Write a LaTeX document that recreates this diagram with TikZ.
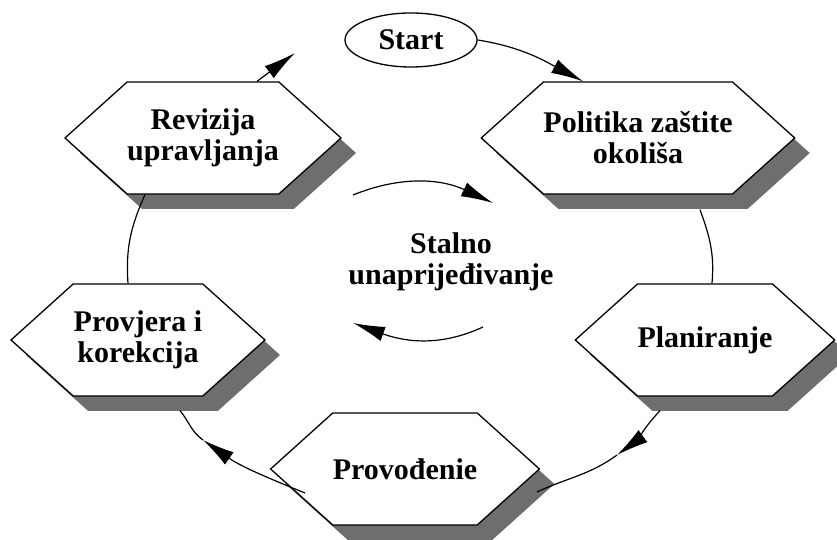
\documentclass[tikz,border=0pt]{standalone}
\usepackage{fontspec}
\setmainfont{Liberation Serif}
\usetikzlibrary{shapes.geometric, shapes.symbols, shadows, arrows.meta}
\definecolor{sjena}{RGB}{110,110,110}

\begin{document}
\begin{tikzpicture}[x=0.5pt, y=0.5pt,
  hexbox/.style={signal, signal to=east and west, signal pointer angle=84,
    draw, line width=0.65pt, fill=white, inner sep=0pt,
    minimum width=127pt, minimum height=56pt, align=center,
    font=\bfseries\fontsize{15}{15.5}\selectfont,
    drop shadow={shadow xshift=7.5pt, shadow yshift=-7.5pt, fill=sjena, opacity=1}},
  veza/.style={line width=0.6pt},
  strelica/.style={line width=0.6pt, -{Latex[length=16pt, width=7.5pt]}}]
  \useasboundingbox (0,0) rectangle (837,540);

  % start
  \node[ellipse, draw, line width=0.65pt, minimum width=66pt, minimum height=27pt,
    inner sep=0pt, font=\bfseries\fontsize{15}{15.5}\selectfont] (start) at (411,500) {Start};

  % faze ciklusa
  \node[hexbox] (politika) at (638,402) {Politika zaštite\\okoliša};
  \node[hexbox] (plan) at (705,200) {Planiranje};
  \node[hexbox] (provod) at (405,71) {Provođenie};
  \node[hexbox] (provjera) at (138,200) {Provjera i\\korekcija};
  \node[hexbox] (revizija) at (203,402) {Revizija\\upravljanja};

  % sredina
  \node[align=center, font=\bfseries\fontsize{15}{15.5}\selectfont] (stalno) at (451,278)
    {Stalno\\unaprijeđivanje};

  % krug
  \coordinate (m3) at (617,85);
  \coordinate (m4) at (203,100);
  \coordinate (kraj) at (295,487);
  \draw[strelica] (start.east) to[out=-9, in=152] ([xshift=-27.5pt]politika.north);
  \draw[veza] ([xshift=31pt, yshift=-7.5pt]politika.south) to[out=-70, in=85] ([xshift=3.5pt]plan.north);
  \draw[strelica] ([xshift=-22.5pt, yshift=-7pt]plan.south) to[out=227, in=36] (m3);
  \draw[veza] (m3) to[out=216, in=25] ([xshift=66pt, yshift=-11.5pt]provod.center);
  \draw[strelica] ([xshift=-50pt, yshift=-12pt]provod.center) to[out=158, in=-35] (m4);
  \draw[veza] (m4) to[out=145, in=-50] ([xshift=21pt, yshift=-7pt]provjera.south);
  \draw[veza] ([xshift=-5pt]provjera.north) to[out=94, in=246] ([xshift=-29pt]revizija.south);
  \draw[strelica] ([xshift=27pt]revizija.north) -- (kraj);

  % strelice u sredini
  \coordinate (g1) at (353,345);
  \coordinate (g2) at (493,337);
  \coordinate (d1) at (483,213);
  \coordinate (d2) at (353,217);
  \draw[strelica] (g1) to[out=22, in=155] (g2);
  \draw[strelica] (d1) to[out=205, in=-20] (d2);
\end{tikzpicture}
\end{document}
